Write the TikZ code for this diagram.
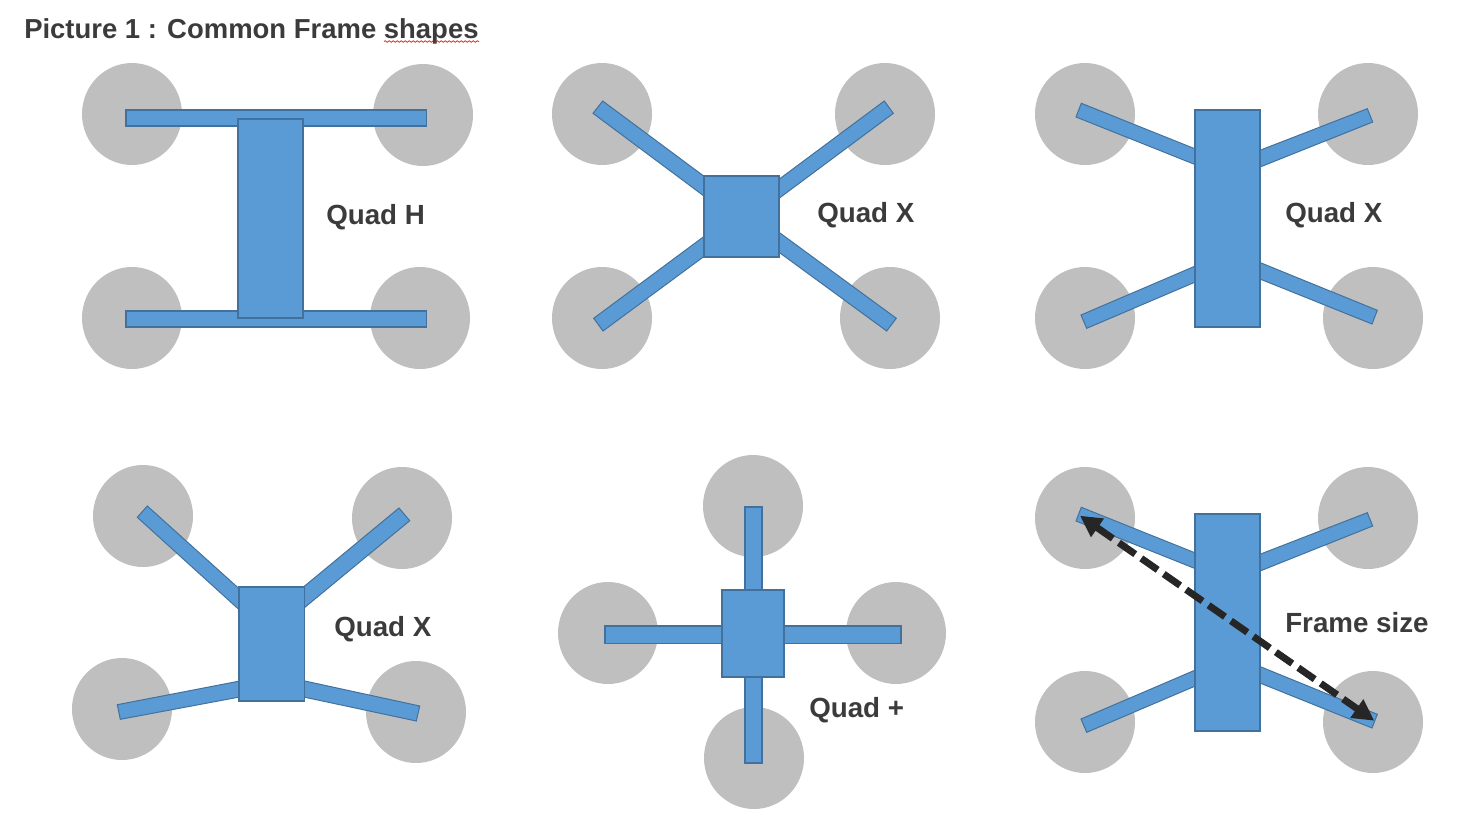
\documentclass[tikz,border=0pt]{standalone}
\usepackage{fontspec}
\setmainfont{Liberation Sans}
\usetikzlibrary{arrows.meta,decorations.pathmorphing}
\definecolor{rotor}{HTML}{BFBFBF}
\definecolor{frameblue}{HTML}{5B9BD5}
\definecolor{frameline}{HTML}{41719C}
\definecolor{labelgrey}{HTML}{3B3B3B}
\definecolor{dimline}{HTML}{262626}
\tikzset{
  rotordisc/.style={fill=rotor,draw=none},
  framepart/.style={fill=frameblue,draw=frameline,line width=1.4pt,line join=miter},
  armpart/.style={fill=frameblue,draw=frameline,line width=0.75pt,line join=miter},
  lab/.style={anchor=base west,inner sep=0pt,text=labelgrey,font=\fontsize{20.8}{25}\selectfont\bfseries},
  dimarrow/.style={draw=dimline,line width=5.2pt,dash pattern=on 15pt off 5.5pt,{Triangle[length=16pt,width=16pt]}-{Triangle[length=16pt,width=16pt]}},
}
\newcommand{\disc}[2]{\fill[rotordisc] (#1,#2) ellipse [x radius=50,y radius=51];}
\begin{document}
\begin{tikzpicture}[x=0.75pt,y=-0.75pt]
\useasboundingbox (0,0) rectangle (1472,826);
% title
\node[lab,font=\fontsize{20.6}{25}\selectfont\bfseries] (title) at (24,38) {Picture 1 : Common Frame shapes};
\draw[red,line width=0.5pt,decorate,decoration={snake,amplitude=0.6pt,segment length=3pt}] (384,41.5) -- (479,41.5);
% Panel 1: Quad H
\disc{132}{114}\disc{423}{115}\disc{132}{318}\disc{420}{318}
\draw[framepart] (126,110) rectangle (426.5,126);
\draw[framepart] (126,311) rectangle (426.5,327);
\draw[framepart] (238,119) rectangle (303,318);
\node[lab] (l1) at (326,224) {Quad H};
% Panel 2: Quad X
\disc{602}{114}\disc{885}{114}\disc{602}{318}\disc{890}{318}
\draw[armpart] (602.7,101) -- (593,113.3) -- (710,200.5) -- (710,180.7) -- cycle;
\draw[armpart] (884.3,101) -- (893.3,113.3) -- (770,205) -- (770,186) -- cycle;
\draw[armpart] (593.7,318.3) -- (603,331) -- (710,252) -- (710,232) -- cycle;
\draw[armpart] (896.3,318.3) -- (886.7,331) -- (770,245.7) -- (770,225.7) -- cycle;
\draw[framepart] (704,176) rectangle (779,257);
\node[lab] (l2) at (817,222) {Quad X};
% Panel 3 and Panel 6 share one frame
\foreach \dy in {0,404}{
\begin{scope}[shift={(0,\dy)}]
\disc{1085}{114}\disc{1368}{114}\disc{1085}{318}\disc{1373}{318}
\draw[armpart] (1081.3,103.3) -- (1076,117) -- (1200,166.5) -- (1200,150.8) -- cycle;
\draw[armpart] (1367.3,108.7) -- (1372.7,122) -- (1255,169) -- (1255,152.2) -- cycle;
\draw[armpart] (1081,315) -- (1086.7,328.3) -- (1200,280) -- (1200,264) -- cycle;
\draw[armpart] (1377.3,310.3) -- (1372,324) -- (1255,277) -- (1255,260.5) -- cycle;
\draw[framepart] (1195,110) rectangle (1260,327);
\end{scope}}
\node[lab] (l3) at (1285,222) {Quad X};
\node[lab] (l6) at (1285,632) {Frame size};
\coordinate (dimA) at (1080,515.7);
\coordinate (dimB) at (1374.3,720.7);
\draw[dimarrow] (dimA) -- (dimB);
% Panel 4: Quad X
\disc{143}{516}\disc{402}{518}\disc{122}{709}\disc{416}{712}
\draw[armpart] (147.3,506) -- (137.3,517.3) -- (245,615) -- (245,594) -- cycle;
\draw[armpart] (399,508) -- (409.7,520.7) -- (298,613) -- (298,591.5) -- cycle;
\draw[armpart] (117.3,704.7) -- (120.3,719.3) -- (245,696) -- (245,680) -- cycle;
\draw[armpart] (419.7,706) -- (416.3,721) -- (298,695.8) -- (298,679.5) -- cycle;
\draw[framepart] (239,587) rectangle (304.5,701);
\node[lab] (l4) at (334,636) {Quad X};
% Panel 5: Quad +
\disc{753}{506}\disc{608}{633}\disc{896}{633}\disc{754}{758}
\draw[framepart] (745,507) rectangle (762,600);
\draw[framepart] (745,670) rectangle (762,763);
\draw[framepart] (605,626) rectangle (730,643.5);
\draw[framepart] (775,626) rectangle (901,643.5);
\draw[framepart] (722,590) rectangle (784,677);
\node[lab] (l5) at (809,717) {Quad +};
\end{tikzpicture}
\end{document}
